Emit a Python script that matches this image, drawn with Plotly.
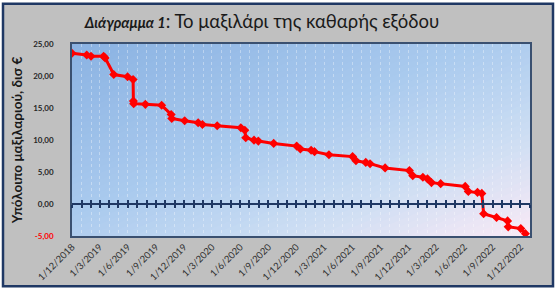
import plotly.graph_objects as go

# ---- data ----
dates = [
    "2018-12-01", "2019-01-18", "2019-02-01", "2019-03-14", "2019-03-19",
    "2019-04-16", "2019-05-31", "2019-06-18", "2019-06-19", "2019-06-20",
    "2019-07-28", "2019-09-19", "2019-10-20", "2019-10-22", "2019-12-03",
    "2020-01-16", "2020-01-30", "2020-03-18", "2020-06-03", "2020-06-16",
    "2020-06-19", "2020-07-16", "2020-07-30", "2020-09-18", "2020-12-02",
    "2020-12-14", "2021-01-18", "2021-01-29", "2021-03-17", "2021-06-02",
    "2021-06-13", "2021-07-15", "2021-07-29", "2021-09-16", "2021-12-04",
    "2021-12-15", "2022-01-17", "2022-02-01", "2022-02-14", "2022-03-16",
    "2022-06-04", "2022-06-14", "2022-07-14", "2022-07-28", "2022-08-03",
    "2022-09-14", "2022-10-20", "2022-10-22", "2022-12-02", "2022-12-17",
]
values = [
    23.56, 23.29, 23.09, 23.09, 22.83,
    20.23, 19.88, 19.46, 16.10, 15.68,
    15.57, 15.42, 13.98, 13.35, 13.00,
    12.69, 12.42, 12.22, 11.91, 11.53,
    10.35, 9.98, 9.83, 9.47, 9.05,
    8.59, 8.39, 8.18, 7.70, 7.41,
    6.75, 6.50, 6.30, 5.64, 5.22,
    4.43, 4.19, 3.93, 3.34, 3.18,
    2.75, 1.97, 1.82, 1.66, -1.53,
    -2.12, -2.64, -3.57, -3.84, -4.63,
]
y_tickvals = [-5, 0, 5, 10, 15, 20, 25]
y_ticktext = ["<span style='color:#ff0000'>-5,00</span>", "0,00", "5,00",
              "10,00", "15,00", "20,00", "25,00"]
x_range = ["2018-12-01", "2023-01-01"]
y_range = [-5, 25]

title_html = ("<b><i><span style='font-size:14.5px'>Διάγραμμα 1</span></i></b>"
              ": Το μαξιλάρι της καθαρής εξόδου")
y_title = "Υπόλοιπο μαξιλαριού, δισ €"

FONT = "Lato"
NAVY = "#1f3864"

fig = go.Figure()

fig.add_trace(go.Scatter(
    x=dates, y=values, mode="lines+markers",
    line=dict(color="#ff0000", width=3),
    marker=dict(symbol="diamond", size=7, color="#ff0000"),
    showlegend=False, hoverinfo="x+y",
))
# helper traces so the zero-line axes are drawn
for ax in ("x2", "x3"):
    fig.add_trace(go.Scatter(x=dates[:1], y=values[:1], xaxis=ax, yaxis="y",
                             mode="markers", marker=dict(opacity=0),
                             showlegend=False, hoverinfo="skip"))

# ---- decoration: outer frame + gradient plot background ----
W, H = 558, 295
L, R, T, B = 72, 28, 44, 56
pw, ph = W - L - R, H - T - B

def px2paper(px, py):
    return (px - L) / pw, (H - B - py) / ph

shapes = []
x0, y1 = px2paper(3, 3)
x1, y0 = px2paper(553, 290)
shapes.append(dict(type="rect", xref="paper", yref="paper", x0=x0, x1=x1,
                   y0=y0, y1=y1, fillcolor="#c0c0c0",
                   line=dict(color=NAVY, width=2.5), layer="below"))

stops = [(0.0, (138, 178, 226)), (0.45, (170, 202, 238)),
         (0.72, (203, 221, 243)), (1.0, (250, 234, 246))]

def col(t):
    for (ta, ca), (tb, cb) in zip(stops[:-1], stops[1:]):
        if ta <= t <= tb:
            f = (t - ta) / (tb - ta)
            return "rgb(%d,%d,%d)" % tuple(round(a + f * (b - a)) for a, b in zip(ca, cb))
    return "rgb(%d,%d,%d)" % stops[-1][1]

def clip(s):
    corners = [(0, 0), (1, 0), (1, 1), (0, 1)]  # (u, v), v measured from top
    out = []
    for i in range(4):
        p, q = corners[i], corners[(i + 1) % 4]
        fp, fq = p[0] + p[1] - s, q[0] + q[1] - s
        if fp >= 0:
            out.append(p)
        if (fp >= 0) != (fq >= 0):
            t = fp / (fp - fq)
            out.append((p[0] + t * (q[0] - p[0]), p[1] + t * (q[1] - p[1])))
    return out

N = 60
for i in range(N):
    s = 2 * i / N
    poly = clip(s)
    if len(poly) < 3:
        continue
    path = "M " + " L ".join("%.5f,%.5f" % (u, 1 - v) for u, v in poly) + " Z"
    shapes.append(dict(type="path", xref="paper", yref="paper", path=path,
                       fillcolor=col((i + 0.5) / N), line=dict(width=0),
                       layer="below"))

zero_pos = (0 - y_range[0]) / (y_range[1] - y_range[0])
zero_axis = dict(overlaying="x", anchor="free", position=zero_pos,
                 type="date", range=x_range, showline=True, linecolor=NAVY,
                 linewidth=2, tickmode="linear", tick0="2018-12-01", dtick="M1",
                 ticklen=3, tickwidth=1.5, tickcolor=NAVY,
                 showticklabels=False, showgrid=False, zeroline=False)

GRID = "rgba(255,255,255,0.35)"

fig.update_layout(
    width=W, height=H,
    margin=dict(l=L, r=R, t=T, b=B),
    paper_bgcolor="white",
    plot_bgcolor="rgba(0,0,0,0)",
    font=dict(family=FONT, color="#262626"),
    title=dict(text=title_html, x=262 / W, xanchor="center",
               y=1 - 22 / H, yanchor="middle", xref="container", yref="container",
               font=dict(family=FONT, size=18.5, color="#1a1a1a")),
    shapes=shapes,
    xaxis=dict(type="date", range=x_range, tickmode="linear",
               tick0="2018-12-01", dtick="M3", tickformat="%-d/%-m/%Y",
               tickangle=-45, tickfont=dict(family=FONT, size=9.5, color="#303030"),
               showgrid=True, gridcolor=GRID, griddash="dot", gridwidth=1,
               minor=dict(dtick="M1", showgrid=True, gridcolor=GRID,
                          griddash="dot", gridwidth=1),
               showline=True, linecolor="#3a5070", linewidth=1.5, mirror=True,
               ticks="", zeroline=False),
    xaxis2=dict(zero_axis, ticks="outside"),
    xaxis3=dict(zero_axis, ticks="inside"),
    yaxis=dict(range=y_range, tickmode="array", tickvals=y_tickvals,
               ticktext=y_ticktext, showgrid=False, zeroline=False,
               tickfont=dict(family=FONT, size=8, color="#262626", weight="bold"),
               ticklabelstandoff=15,
               showline=True, linecolor="#3a5070", linewidth=1.5, mirror=True,
               title=dict(text=y_title, standoff=7,
                          font=dict(family=FONT, size=13.5, color="#1a1a1a",
                                    weight="bold"))),
)

fig.write_html("out.html")
